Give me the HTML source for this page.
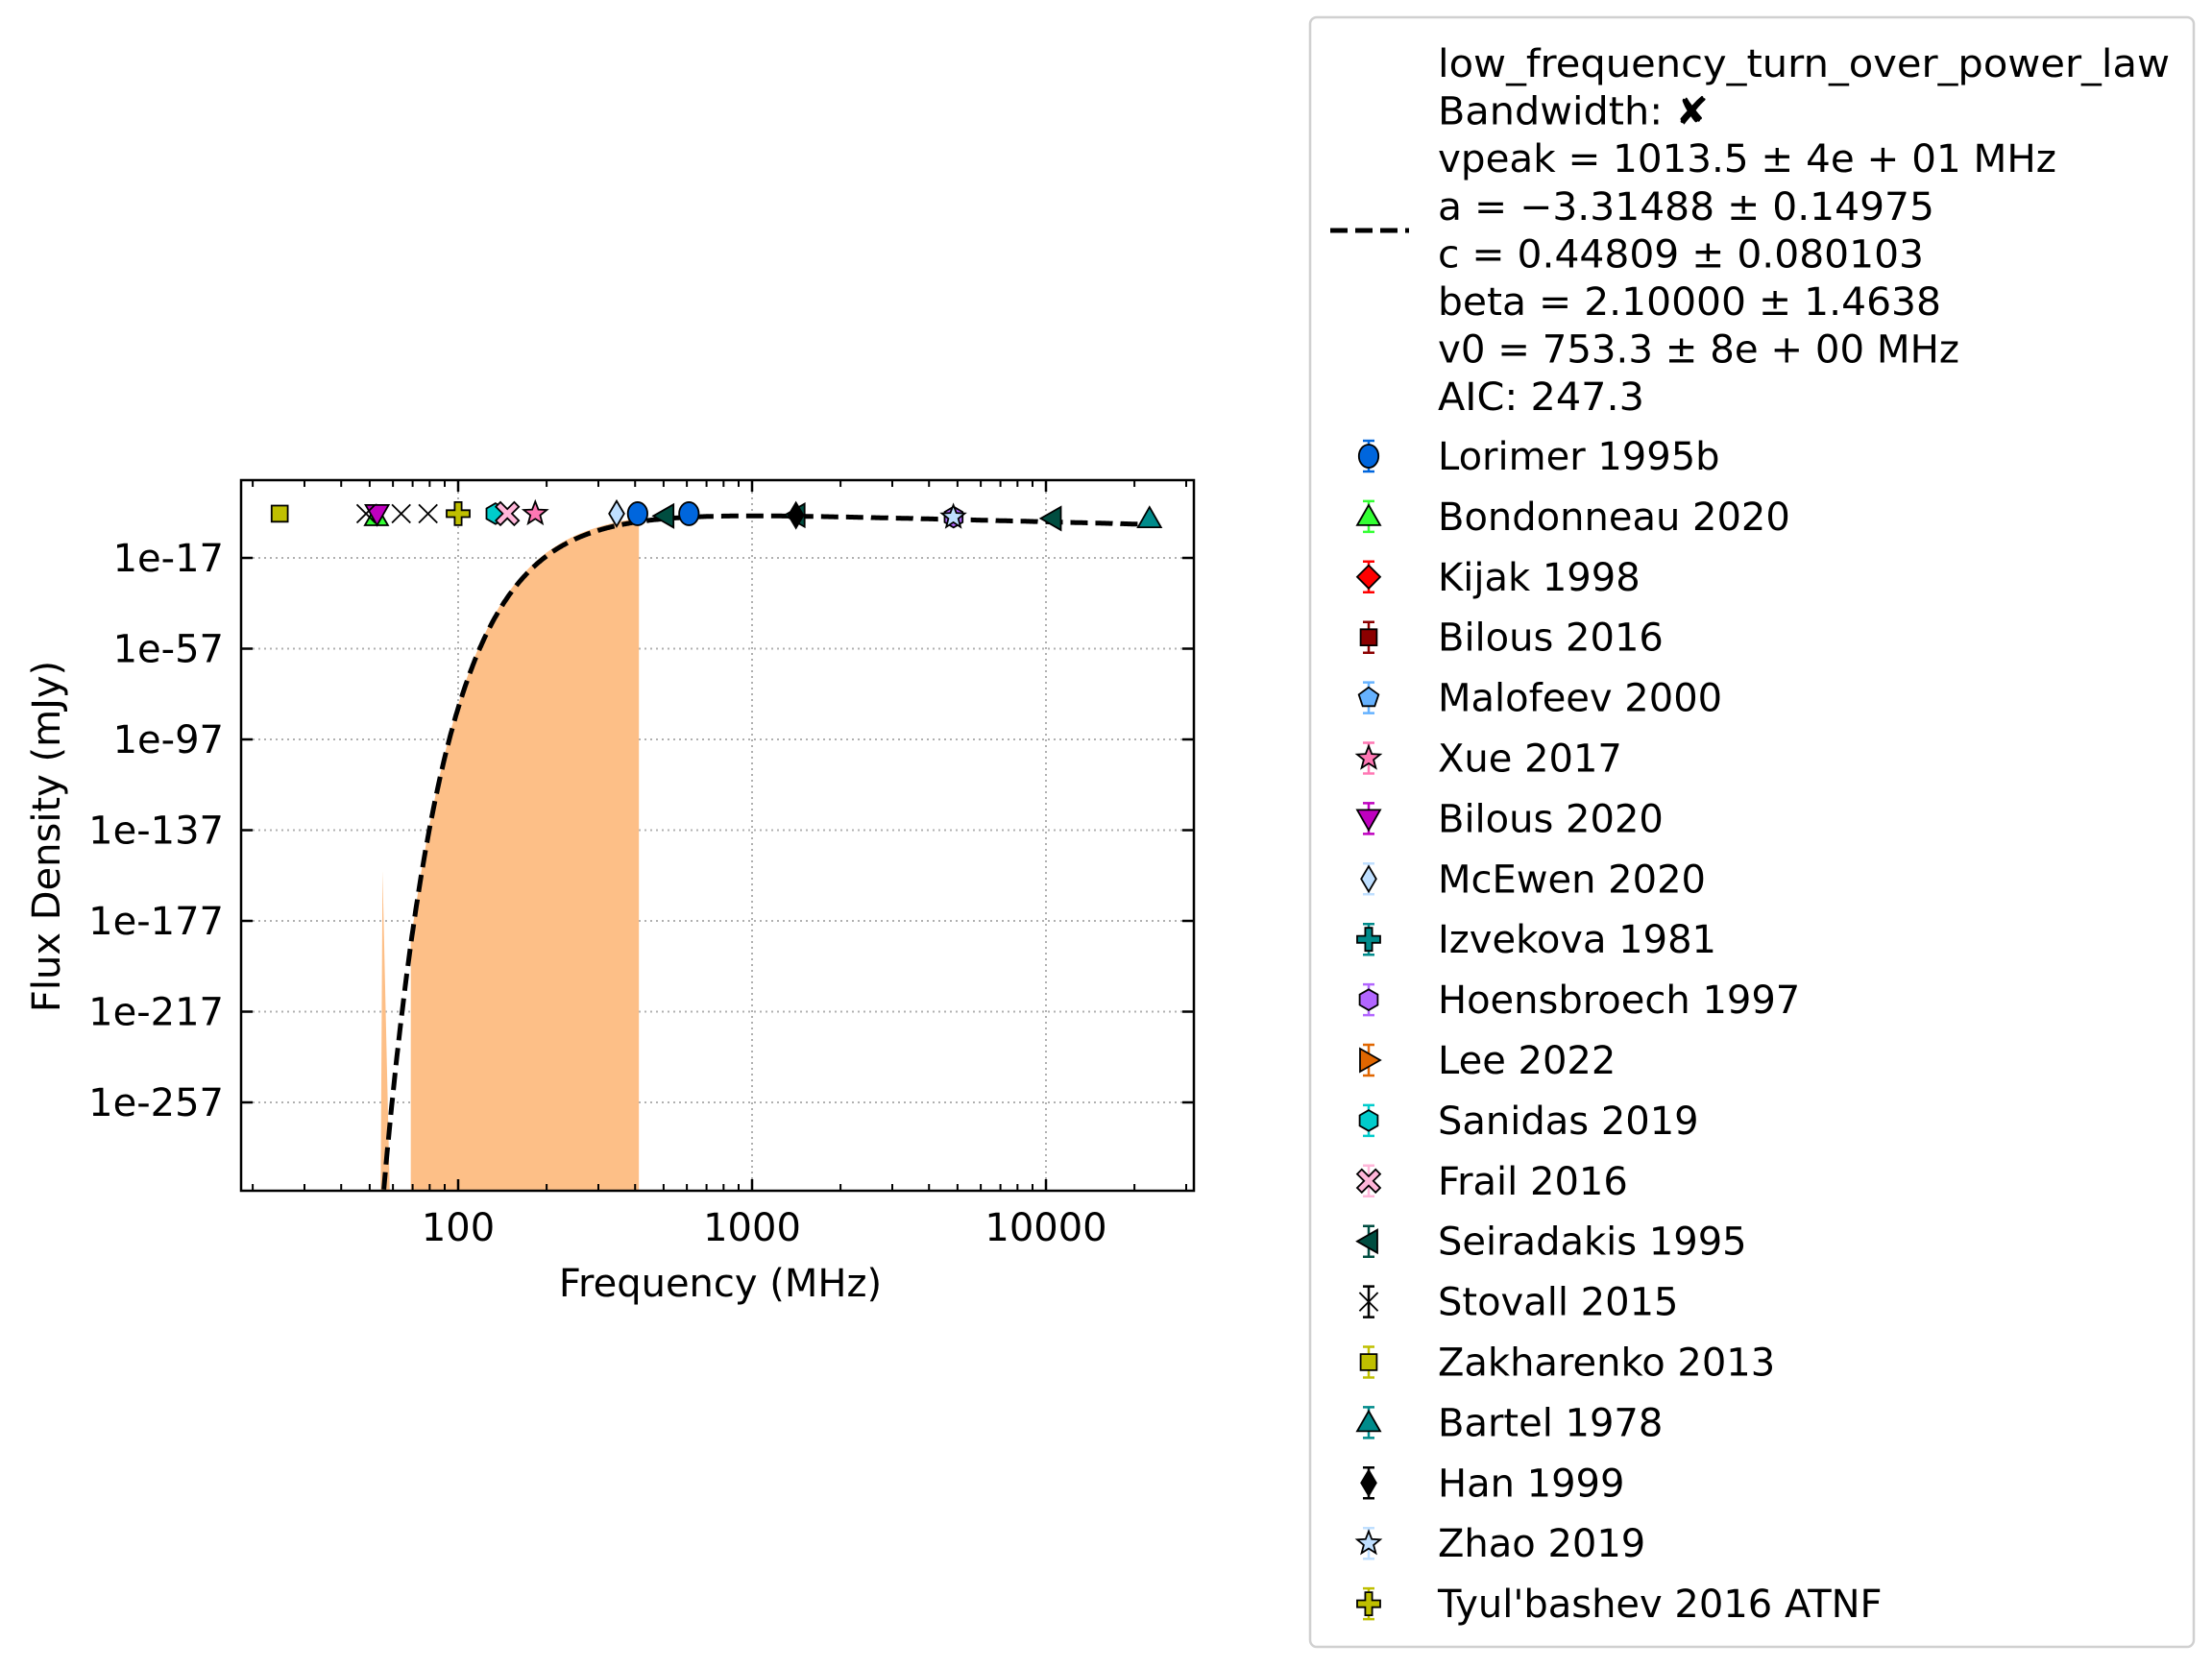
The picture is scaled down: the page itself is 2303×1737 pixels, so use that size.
<!DOCTYPE html>
<html><head><meta charset="utf-8">
<style>
html,body{margin:0;padding:0;background:#fff;}
svg{display:block;font-family:"DejaVu Sans","Liberation Sans",sans-serif;}
</style></head>
<body>
<svg id="chart" width="2303" height="1737" viewBox="0 0 2303 1737" xmlns="http://www.w3.org/2000/svg">
<rect width="2303" height="1737" fill="#fff"/>
<g id="grid"></g>
<g id="fill"></g>
<g id="curve"></g>
<g id="points"></g>
<g id="axes"></g>
<text x="0" y="0" transform="translate(62,871) rotate(-90)" text-anchor="middle" font-size="40">Flux Density (mJy)</text>
<text x="750" y="1350" text-anchor="middle" font-size="40">Frequency (MHz)</text>
<g id="legend"></g>
</svg>
<script>
// ---- data ----
const xTicks = [100, 1000, 10000];
const xTickLabels = ["100", "1000", "10000"];
const yTicks = [-17, -57, -97, -137, -177, -217, -257];
const yTickLabels = ["1e-17", "1e-57", "1e-97", "1e-137", "1e-177", "1e-217", "1e-257"];
const fitVpeak = 1013.5;
const fitA = -3.31488;
const fitC = 448;
const fitBeta = 2.1;
const fitV0 = 753.3;
const bandStart = 69;
const bandEnd = 412;
const spikeFreq = [54.5, 55.3, 58.5];
const spikeLog = [-300, -155, -300];
const seriesNames = ["Lorimer 1995b","Bondonneau 2020","Kijak 1998","Bilous 2016","Malofeev 2000","Xue 2017","Bilous 2020","McEwen 2020","Izvekova 1981","Hoensbroech 1997","Lee 2022","Sanidas 2019","Frail 2016","Seiradakis 1995","Stovall 2015","Zakharenko 2013","Bartel 1978","Han 1999","Zhao 2019","Tyul'bashev 2016 ATNF"];
const seriesFreq = [[408,610],[52.7],[],[],[],[183],[53],[346],[],[4850],[],[134],[147],[505,10500,1410],[48.6,64,79],[24.7],[22500],[1410],[4840],[100]];
const seriesLogS = [[2.5,2.5],[1.2],[],[],[],[2.5],[2.5],[2.5],[],[1.0],[],[2.5],[2.5],[1.5,0.4,1.8],[2.5,2.5,2.5],[2.5],[0.3],[1.8],[1.0],[2.5]];

const markers = ["circle","tri-up","diamond","square","pentagon","star","tri-down","thin-diamond","plus","hexagon","tri-right","hexagon","x-fill","tri-left","x","square","tri-up","thin-diamond","star","plus"];
const colors = ["#0066dd","#33ff33","#ff0000","#8b0000","#66b2ff","#ff77b4","#bf00bf","#bfdfff","#008b8b","#b266ff","#e06600","#00cccc","#ffb6d9","#004d40","#000000","#bfbf00","#008b8b","#000000","#bfdfff","#bfbf00"];

// ---- axes ----
const L=251,R=1243,T=500,B=1240;
const X=f=>477+306*(Math.log10(f)-2);
const Y=l=>581-(l+17)*94.5/40;
const NS="http://www.w3.org/2000/svg";
function el(tag,attrs,parent){const e=document.createElementNS(NS,tag);for(const k in attrs)e.setAttribute(k,attrs[k]);parent.appendChild(e);return e;}
const grid=document.getElementById('grid'),axes=document.getElementById('axes');
xTicks.forEach((t,i)=>{
  const x=X(t);
  const g=el('line',{x1:x,x2:x,y1:T,y2:B,stroke:'#b0b0b0','stroke-width':2,'stroke-dasharray':'2,4'},grid);
  
  
  el('line',{x1:x,x2:x,y1:B,y2:B-12,stroke:'#000','stroke-width':2.5},axes);
  el('line',{x1:x,x2:x,y1:T,y2:T+12,stroke:'#000','stroke-width':2.5},axes);
  const tl=el('text',{x:x,y:1292,'text-anchor':'middle','font-size':40},axes);
  tl.textContent=xTickLabels[i];
  
  
});
for(let d=1;d<5;d++)for(let m=2;m<10;m++){const f=m*Math.pow(10,d);const x=X(f);if(x<L||x>R)continue;
  el('line',{x1:x,x2:x,y1:B,y2:B-7,stroke:'#000','stroke-width':2},axes);
  el('line',{x1:x,x2:x,y1:T,y2:T+7,stroke:'#000','stroke-width':2},axes);}
yTicks.forEach((t,i)=>{
  const y=Y(t);
  const g=el('line',{x1:L,x2:R,y1:y,y2:y,stroke:'#b0b0b0','stroke-width':2,'stroke-dasharray':'2,4'},grid);
  
  
  el('line',{x1:L,x2:L+12,y1:y,y2:y,stroke:'#000','stroke-width':2.5},axes);
  el('line',{x1:R,x2:R-12,y1:y,y2:y,stroke:'#000','stroke-width':2.5},axes);
  const tl=el('text',{x:233,y:y+14,'text-anchor':'end','font-size':40},axes);
  tl.textContent=yTickLabels[i];
  
  
});
el('rect',{x:L,y:T,width:R-L,height:B-T,fill:'none',stroke:'#000','stroke-width':2.5},axes);

// ---- model ----
function model(v){return Math.log10(fitC)+fitA*Math.log10(v/fitV0)+(fitA/fitBeta)*Math.pow(v/fitVpeak,-fitBeta)*Math.LOG10E;}
const clipY=y=>Math.max(T,Math.min(B+20,y));
let pts=[];
for(let lf=Math.log10(bandStart);lf<=Math.log10(bandEnd);lf+=0.005){const v=Math.pow(10,lf);pts.push([X(v),clipY(Y(model(v)+1.5))]);}
pts.push([X(bandEnd),clipY(Y(model(bandEnd)+1.5))]);
let d='M'+X(bandStart)+','+B+' '+pts.map(p=>'L'+p[0].toFixed(1)+','+p[1].toFixed(1)).join(' ')+' L'+X(bandEnd)+','+B+'Z';
const bf=document.getElementById('fill');
const band=el('path',{d:d,fill:'#fdbf87'},bf);


const sp=el('polygon',{points:spikeFreq.map((f,i)=>X(f)+','+Math.min(B,Y(spikeLog[i]))).join(' '),fill:'#fdbf87'},bf);


let cp=[];
for(let lf=Math.log10(50);lf<=Math.log10(23000);lf+=0.003){const v=Math.pow(10,lf);const y=Y(model(v));if(y>B+5)continue;cp.push(X(v).toFixed(1)+','+y.toFixed(1));}
const cl=el('polyline',{points:cp.join(' '),fill:'none',stroke:'#000','stroke-width':5,'stroke-dasharray':'18,8'},document.getElementById('curve'));



// ---- markers ----
function drawMarker(g,type,x,y,c,s){
  const st={fill:c,stroke:'#000','stroke-width':1.8};
  const poly=p=>el('polygon',Object.assign({points:p.map(q=>(x+q[0]*s).toFixed(1)+','+(y+q[1]*s).toFixed(1)).join(' ')},st),g);
  const reg=(n,r,rot)=>{const p=[];for(let i=0;i<n;i++){const a=rot+i*2*Math.PI/n;p.push([r*Math.cos(a),r*Math.sin(a)]);}return p;};
  switch(type){
    case 'circle':el('ellipse',Object.assign({cx:x,cy:y,rx:s*0.85,ry:s},st),g);break;
    case 'tri-up':poly([[0,-1],[1,0.75],[-1,0.75]]);break;
    case 'tri-down':poly([[0,1],[1,-0.75],[-1,-0.75]]);break;
    case 'tri-left':poly([[-1,0],[0.75,-1],[0.75,1]]);break;
    case 'tri-right':poly([[1,0],[-0.75,-1],[-0.75,1]]);break;
    case 'square':poly([[-0.7,-0.7],[0.7,-0.7],[0.7,0.7],[-0.7,0.7]]);break;
    case 'diamond':poly([[0,-1],[1,0],[0,1],[-1,0]]);break;
    case 'thin-diamond':poly([[0,-1.1],[0.65,0],[0,1.1],[-0.65,0]]);break;
    case 'pentagon':poly(reg(5,0.9,-Math.PI/2));break;
    case 'hexagon':poly(reg(6,0.9,-Math.PI/2));break;
    case 'star':{const p=[];for(let i=0;i<10;i++){const a=-Math.PI/2+i*Math.PI/5;const r=i%2?0.45:1.05;p.push([r*Math.cos(a),r*Math.sin(a)]);}poly(p);break;}
    case 'plus':poly([[-0.3,-1],[0.3,-1],[0.3,-0.3],[1,-0.3],[1,0.3],[0.3,0.3],[0.3,1],[-0.3,1],[-0.3,0.3],[-1,0.3],[-1,-0.3],[-0.3,-0.3]]);break;
    case 'x-fill':poly([[-1,-0.6],[-0.6,-1],[0,-0.4],[0.6,-1],[1,-0.6],[0.4,0],[1,0.6],[0.6,1],[0,0.4],[-0.6,1],[-1,0.6],[-0.4,0]]);break;
    case 'x':el('path',{d:`M${x-s*0.8},${y-s*0.8}L${x+s*0.8},${y+s*0.8}M${x+s*0.8},${y-s*0.8}L${x-s*0.8},${y+s*0.8}`,stroke:'#000','stroke-width':1.8,fill:'none'},g);break;
  }
}
const pg=document.getElementById('points');
seriesNames.forEach((n,i)=>{
  seriesFreq[i].forEach((f,j)=>{
    const g=el('g',{},pg);
    
    
    drawMarker(g,markers[i],X(f),Y(seriesLogS[i][j]),colors[i],12);
  });
});

// ---- legend ----
const lg=document.getElementById('legend');
el('rect',{x:1364,y:18,width:920,height:1697,rx:7,fill:'#fff',stroke:'#d0d0d0','stroke-width':2.5},lg);
const fitLines=["low_frequency_turn_over_power_law","Bandwidth: \u2718","vpeak = 1013.5 \u00b1 4e + 01 MHz","a = \u22123.31488 \u00b1 0.14975","c = 0.44809 \u00b1 0.080103","beta = 2.10000 \u00b1 1.4638","v0 = 753.3 \u00b1 8e + 00 MHz","AIC: 247.3"];
const fitWidths=[762,282,644,517,506,524,543,215];
fitLines.forEach((t,i)=>{
  const tx=el('text',{x:1497,y:80+i*49.6,'font-size':40,textLength:fitWidths[i],lengthAdjust:'spacingAndGlyphs'},lg);
  tx.textContent=t;
  
  
});
const ll=el('line',{x1:1385,x2:1467,y1:240,y2:240,stroke:'#000','stroke-width':5,'stroke-dasharray':'18,8'},lg);


seriesNames.forEach((n,i)=>{
  const y=475+i*62.9;
  const g=el('g',{},lg);
  
  
  el('path',{d:`M1425,${y-16}V${y+16}M1419,${y-16}H1431M1419,${y+16}H1431`,stroke:colors[i],'stroke-width':2.5,fill:'none'},g);
  drawMarker(g,markers[i],1425,y,colors[i],12);
  const tx=el('text',{x:1497,y:y+14,'font-size':40},g);
  tx.textContent=n;
});
</script>
</body></html>
